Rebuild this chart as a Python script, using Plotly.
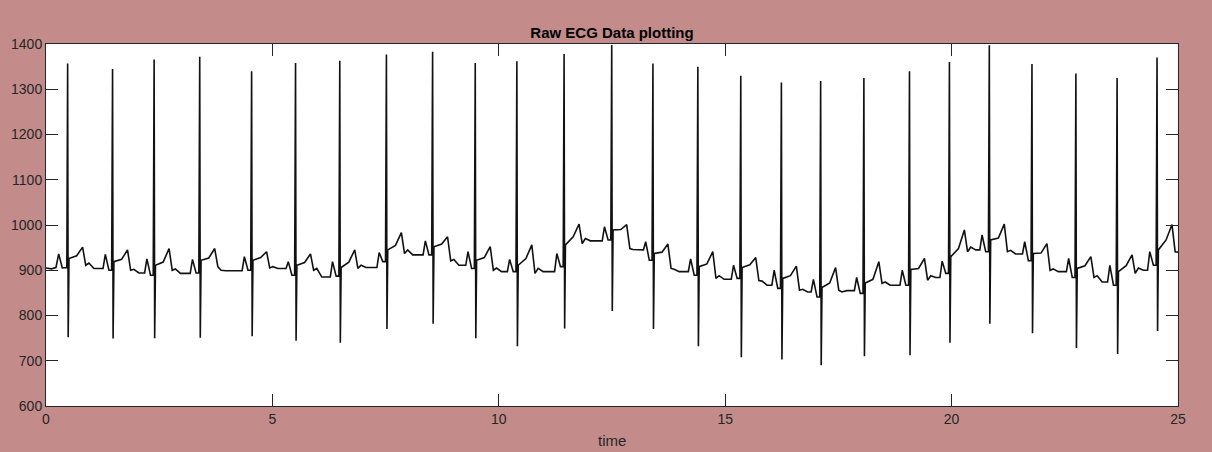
import plotly.graph_objects as go

# ---- values (one entry per heartbeat) ----
r_time = [0.478, 1.470, 2.388, 3.395, 4.541, 5.511, 6.488, 7.518, 8.538, 9.480,
          10.399, 11.442, 12.494, 13.404, 14.396, 15.344, 16.241, 17.108, 18.063, 19.070,
          19.952, 20.833, 21.775, 22.745, 23.655, 24.537]
r_peak = [1357, 1345, 1366, 1372, 1340, 1358, 1363, 1377, 1383, 1358,
          1362, 1378, 1398, 1357, 1350, 1330, 1315, 1318, 1325, 1340,
          1360, 1397, 1356, 1335, 1325, 1370]
s_trough = [752, 749, 750, 751, 754, 744, 740, 770, 782, 750,
            732, 771, 810, 770, 732, 708, 703, 690, 710, 712,
            740, 782, 761, 728, 715, 766]
st_level = [926, 919, 911, 922, 922, 911, 906, 945, 952, 922,
            911, 956, 989, 937, 908, 906, 882, 862, 872, 902,
            930, 967, 937, 904, 897, 945]
st_end = [932, 924, 918, 927, 928, 917, 918, 955, 958, 928,
          926, 974, 990, 940, 914, 912, 888, 872, 880, 904,
          948, 971, 938, 910, 910, 967]
t_peak = [951, 945, 948, 948, 941, 936, 945, 983, 974, 952,
          956, 1002, 1001, 958, 941, 928, 909, 906, 919, 926,
          989, 1002, 959, 930, 934, 1001]
t_drop = [911, 900, 900, 908, 905, 900, 904, 937, 921, 900,
          893, 959, 948, 904, 882, 877, 856, 856, 871, 878,
          941, 941, 900, 884, 893, 941]
mid_bump = [916, 902, 903, 900, 908, 904, 911, 945, 924, 905,
            904, 970, 946, 902, 888, 876, 858, 852, 874, 888,
            951, 944, 903, 888, 905]
pre_p_low = [904, 894, 893, 899, 904, 885, 906, 934, 911, 897,
             897, 965, 945, 897, 880, 867, 852, 855, 867, 884,
             945, 936, 897, 874, 900]
p_peak = [935, 925, 924, 930, 919, 919, 939, 965, 941, 924,
          937, 996, 963, 925, 911, 900, 880, 884, 900, 920,
          978, 963, 926, 911, 941]
q_dip = [900, 889, 894, 900, 889, 887, 919, 934, 904, 897,
         908, 967, 922, 889, 882, 860, 841, 849, 867, 893,
         941, 921, 884, 867, 911]
lead_in_t = [0.0, 0.12, 0.22, 0.28, 0.36, 0.46]
lead_in_v = [905, 903, 906, 936, 905, 906]
end_t = 25.0
end_v = 940

# ---- assemble the trace from the read key points ----
xs = list(lead_in_t)
ys = list(lead_in_v)
n = len(r_time)
for i in range(n):
    t = r_time[i]
    xs += [t, t + 0.012, t + 0.03, t + 0.2, t + 0.33, t + 0.40]
    ys += [r_peak[i], s_trough[i], st_level[i], st_end[i], t_peak[i], t_drop[i]]
    if i < n - 1:
        tn = r_time[i + 1]
        xs += [t + 0.47, t + 0.58, tn - 0.21, tn - 0.16, tn - 0.08, tn - 0.02]
        ys += [mid_bump[i], pre_p_low[i], pre_p_low[i], p_peak[i], q_dip[i], q_dip[i]]
xs.append(end_t)
ys.append(end_v)

fig = go.Figure()
fig.add_trace(go.Scatter(x=xs, y=ys, mode="lines",
                         line=dict(color="#111111", width=1.6),
                         showlegend=False, hoverinfo="skip"))

axis_col = "#262626"
font_fam = "Liberation Sans, Arial, sans-serif"
common = dict(showgrid=False, zeroline=False, showline=True, linecolor=axis_col,
              linewidth=1, mirror="ticks", ticks="inside", ticklen=12,
              tickcolor=axis_col, tickwidth=1,
              tickfont=dict(family=font_fam, size=14, color=axis_col))

fig.update_xaxes(range=[0, 25], tickvals=[0, 5, 10, 15, 20, 25], **common)
fig.update_yaxes(range=[600, 1400], tickvals=[600, 700, 800, 900, 1000, 1100, 1200, 1300, 1400],
                 **common)

fig.update_layout(
    width=1212, height=452,
    margin=dict(l=46, r=34, t=44, b=46),
    paper_bgcolor="#C38C8B",
    plot_bgcolor="#FFFFFF",
    title=dict(text="<b>Raw ECG Data plotting</b>", x=0.5, xref="paper",
               y=1 - 33 / 452, yref="container", yanchor="middle", xanchor="center",
               font=dict(family=font_fam, size=15, color="#000000")),
    annotations=[dict(text="time", x=0.5, y=0, xref="paper", yref="paper",
                      yshift=-34, yanchor="middle", showarrow=False,
                      font=dict(family=font_fam, size=15, color=axis_col))],
)

fig.write_html("out.html",
               config={"displayModeBar": False},
               post_script="document.body.style.margin='0';document.body.style.padding='0';"
                           "document.body.style.overflow='hidden';")
